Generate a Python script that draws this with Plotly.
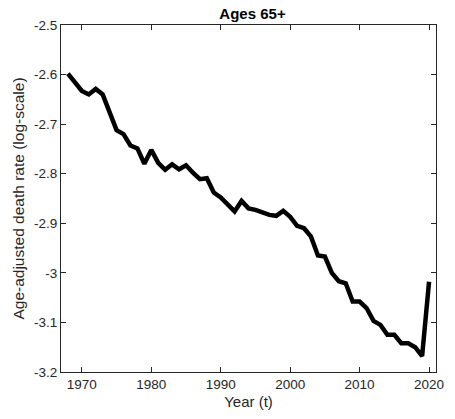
import plotly.graph_objects as go

years = list(range(1968, 2021))
rate = [-2.598, -2.616, -2.633, -2.640, -2.629, -2.640, -2.677, -2.712, -2.720, -2.743,
        -2.749, -2.780, -2.752, -2.778, -2.792, -2.781, -2.791, -2.783, -2.798, -2.811,
        -2.809, -2.838, -2.848, -2.861, -2.876, -2.855, -2.870, -2.873, -2.879, -2.883,
        -2.885, -2.875, -2.887, -2.905, -2.910, -2.927, -2.965, -2.967, -3.000, -3.017,
        -3.021, -3.058, -3.058, -3.071, -3.097, -3.105, -3.125, -3.125, -3.142, -3.142,
        -3.150, -3.168, -3.018]
ytick_vals = [-3.2, -3.1, -3.0, -2.9, -2.8, -2.7, -2.6, -2.5]
ytick_text = ["-3.2", "-3.1", "-3", "-2.9", "-2.8", "-2.7", "-2.6", "-2.5"]
xtick_vals = [1970, 1980, 1990, 2000, 2010, 2020]

fig = go.Figure(go.Scatter(x=years, y=rate, mode="lines",
                           line=dict(color="black", width=4.5)))

axis_common = dict(showgrid=False, zeroline=False, showline=True, mirror="ticks",
                   linecolor="#262626", linewidth=1, ticks="inside", ticklen=5,
                   tickcolor="#262626", tickfont=dict(size=13.5, color="#262626"))
fig.update_layout(
    width=455, height=419,
    margin=dict(l=61, r=11, t=25, b=43),
    paper_bgcolor="white", plot_bgcolor="white",
    font=dict(family="Liberation Sans, Arial, sans-serif", color="#262626"),
    title=dict(text="<b>Ages 65+</b>", x=(61 + 444) / 2 / 455, xanchor="center",
               y=1 - 14 / 419, yanchor="middle", font=dict(size=15, color="black")),
    showlegend=False,
)
fig.update_xaxes(range=[1967, 2021], tickvals=xtick_vals,
                 title=dict(text="Year (t)", font=dict(size=15), standoff=5), **axis_common)
fig.update_yaxes(range=[-3.2, -2.5], tickvals=ytick_vals, ticktext=ytick_text,
                 title=dict(text="Age-adjusted death rate (log-scale)", font=dict(size=15.5), standoff=5),
                 **axis_common)

fig.write_html("out.html")
